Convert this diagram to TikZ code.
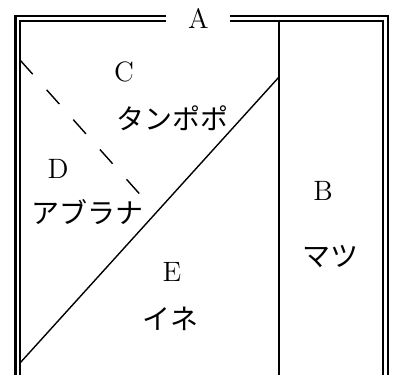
\documentclass[tikz,border=0pt]{standalone}
\usepackage{fontspec}
\newfontfamily\cjk{Noto Sans CJK JP}
\begin{document}
\begin{tikzpicture}[x=0.5pt,y=-0.5pt,
  frame/.style={line width=1.3pt},
  divider/.style={line width=1.2pt},
  diag/.style={line width=0.7pt},
  dashline/.style={line width=0.7pt,dash pattern=on 9.5pt off 10.5pt},
  lat/.style={font=\fontsize{14}{16}\selectfont,inner sep=0pt},
  jp/.style={font=\cjk\fontsize{14}{16}\selectfont,inner sep=0pt}]
\useasboundingbox (0,0) rectangle (395,375);
% frame coordinates
\coordinate (oTL) at (15.5,16);
\coordinate (iTL) at (20,21);
\coordinate (oBL) at (15.5,375);
\coordinate (iBL) at (20,375);
\coordinate (oL1) at (166,16);
\coordinate (iL1) at (166,21);
\coordinate (oR1) at (230,16);
\coordinate (iR1) at (230,21);
\coordinate (oTR) at (388,16);
\coordinate (iTR) at (383,21);
\coordinate (oBR) at (388,375);
\coordinate (iBR) at (383,375);
\draw[frame] (oBL) -- (oTL) -- (oL1);
\draw[frame] (iBL) -- (iTL) -- (iL1);
\draw[frame] (oR1) -- (oTR) -- (oBR);
\draw[frame] (iR1) -- (iTR) -- (iBR);
% divider
\coordinate (vT) at (279,21);
\coordinate (vB) at (279,375);
\draw[divider] (vT) -- (vB);
% diagonal
\coordinate (dA) at (279,77);
\coordinate (dB) at (20,363);
\draw[diag] (dA) -- (dB);
% dashed
\coordinate (sA) at (20,60);
\coordinate (sB) at (145,200);
\draw[dashline] (sA) -- (sB);
% labels
\node[lat] (A) at (198.5,18.5) {A};
\node[lat] (C) at (124,71.5) {C};
\node[jp] (Cj) at (172,118) {タンポポ};
\node[lat] (D) at (58,169) {D};
\node[jp] (Dj) at (87,212) {アブラナ};
\node[lat] (B) at (323,191) {B};
\node[jp] (Bj) at (330,257) {マツ};
\node[lat] (E) at (172,272) {E};
\node[jp] (Ej) at (170,319) {イネ};
\end{tikzpicture}
\end{document}
